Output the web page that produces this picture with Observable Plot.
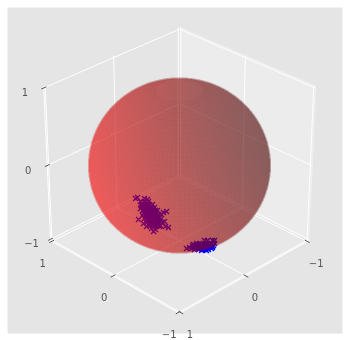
<!DOCTYPE html>
<html><head><meta charset="utf-8">
<style>html,body{margin:0;padding:0;background:#fff}svg{display:block;will-change:transform}svg text{filter:opacity(0.999)}</style>
<script src="https://cdn.jsdelivr.net/npm/d3@7"></script>
<script src="https://cdn.jsdelivr.net/npm/@observablehq/plot@0.6"></script>
</head><body><script>
const tickValues = [-1, 0, 1];
const tickLabels = ["\u22121", "0", "1"];
const limit = 1.02;
const sphereRadius = 0.993;

// Markers in view-plane units
const lowerLeftA = [-44,-42,-35,-32,-41,-36,-33,-16,-13,-18,-11,-14,-26,-24,-28,
  -39,-35,-31,-38,-34,-30,-27,-38,-35,-32,-28,-25,-37,-34,-31,-28,-24,-36,-33,-30,-27,-23,
  -34,-31,-28,-25,-22,-32,-29,-26,-23,-19,-30,-27,-24,-21,-17,-29,-25,-22,-19,
  -37,-33,-36,-32,-29,-35,-32,-29,-26,-34,-31,-28,-25,-33,-30,-27,-24,-32,-29,-26,-23,-30,-27,-24,-21,-28,-25,-22,-26,-23,-20,-38,-34,-30,-26,-33,-29,-25,-30,-26,-22,
  -39,-22,-21,-37,-20,-35,-33,-15];
const lowerLeftB = [-33,-32,-33,-34,-54,-58,-61,-47,-46,-49,-62,-61,-66,-64,-63,
  -36,-36,-36,-39,-39,-39,-39,-42,-42,-42,-42,-42,-45,-45,-45,-45,-45,-48,-48,-48,-48,-48,
  -51,-51,-51,-51,-51,-54,-54,-54,-54,-54,-57,-57,-57,-57,-57,-60,-60,-60,-60,
  -38,-38,-41,-41,-41,-44,-44,-44,-44,-46,-46,-46,-46,-50,-50,-50,-50,-52,-52,-52,-52,-55,-55,-55,-55,-58,-58,-58,-61,-61,-61,-40,-47,-49,-53,-43,-43,-47,-59,-56,-59,
  -43,-45,-49,-50,-52,-53,-57,-56];
const bottomA = [25,28,33,35,17,20,24,28,32,35,13,16,19,22,26,30,34,10,13,17,21,25,29,33,7,12,16,20,24,28,32,15,19,24,29,22,27,
  15,18,21,24,27,30,33,16,19,22,25,28,31,14,18,22,26,30,23,26];
const bottomB = [-75,-75,-75,-75,-78,-78,-78,-78,-78,-78,-80,-80,-80,-80,-80,-80,-80,-82,-82,-82,-82,-82,-82,-82,-83,-83,-83,-83,-83,-83,-83,-84,-84,-84,-84,-85,-85,
  -81,-81,-81,-81,-81,-81,-81,-82,-82,-82,-82,-82,-82,-79,-79,-79,-79,-79,-84,-84];

const rad = Math.PI / 180, elev = 31 * rad, dist = 10, sx = 187, sy = 180;
const n = [-Math.cos(elev) / Math.SQRT2, Math.cos(elev) / Math.SQRT2, Math.sin(elev)];
const r = [-Math.SQRT1_2, -Math.SQRT1_2, 0];
const up = [Math.sin(elev) / Math.SQRT2, -Math.sin(elev) / Math.SQRT2, Math.cos(elev)];
const dot3 = (a, b) => a[0] * b[0] + a[1] * b[1] + a[2] * b[2];
function project(u, v, z) {
  const p = [u, v, z].map((c) => c / (2 * limit));
  const f = dist / (dist - dot3(p, n));
  return {x: sx * dot3(p, r) * f, y: sy * dot3(p, up) * f};
}
const path3 = (pts) => pts.map((p) => project(...p));
const L = limit;

const grid = tickValues.flatMap((t) => [
  path3([[L, L, t], [L, -L, t], [-L, -L, t]]),
  path3([[t, L, -L], [t, -L, -L], [t, -L, L]]),
  path3([[-L, t, -L], [L, t, -L], [L, t, L]])
]);
const axisEdges = [
  path3([[L, L, -L], [-L, L, -L]]),
  path3([[-L, L, -L], [-L, -L, -L]]),
  path3([[L, L, -L], [L, L, L]])
];
const rightWall = path3([[L, -L, -L], [-L, -L, -L], [-L, -L, L], [L, -L, L], [L, -L, -L]]);
const leftWall = path3([[L, L, -L], [L, -L, -L], [L, -L, L], [L, L, L], [L, L, -L]]);
const floor = path3([[L, L, -L], [L, -L, -L], [-L, -L, -L], [-L, L, -L], [L, L, -L]]);

const tl = 0.03;
const ticks = tickValues.flatMap((t) => [
  [project(t, L - tl, -L), project(t, L + tl, -L)],
  [project(-L + tl, t, -L), project(-L - tl, t, -L)],
  [project(L, L - tl, t), project(L, L + tl, t)]
]);
const labelsU = tickValues.map((t, i) => ({...project(t, L, -L), text: tickLabels[i]}));
const labelsV = tickValues.map((t, i) => ({...project(-L, t, -L), text: tickLabels[i]}));
const labelsZ = tickValues.map((t, i) => ({...project(L, L, t), text: tickLabels[i]}));

const markers = [
  ...lowerLeftA.map((a, i) => ({x: a, y: lowerLeftB[i]})),
  ...bottomA.map((a, i) => ({x: a, y: bottomB[i]}))
];

// Shaded sphere: light comes from the lower left of the view
const rx = sx * sphereRadius / (2 * L), ry = sy * sphereRadius / (2 * L);
const light = [-0.943, -0.286, -0.172];
function shade(x, y) {
  const a = x / rx, b = y / ry, q = a * a + b * b;
  if (q > 1) return NaN;
  const s = light[0] * a + light[1] * b + light[2] * Math.sqrt(1 - q);
  return 0.3 + 0.7 * (s + 1) / 2;
}

// The facet seams of the surface, visible side only
const seams = [];
const front = (u, v, z) => dot3([u, v, z], n) > 0.08;
for (let i = 0; i < 120; ++i) {
  const lon = i * 3 * rad;
  for (let j = 5; j <= 55; ++j) {
    const lat = (j * 3 - 90) * rad;
    const u = Math.cos(lat) * Math.cos(lon), v = Math.cos(lat) * Math.sin(lon), z = Math.sin(lat);
    seams.push({...project(u, v, z), id: i, show: front(u, v, z)});
  }
}
for (let j = 5; j < 56; ++j) {
  const lat = (j * 3 - 90) * rad;
  for (let i = 0; i <= 120; ++i) {
    const lon = i * 3 * rad;
    const u = Math.cos(lat) * Math.cos(lon), v = Math.cos(lat) * Math.sin(lon), z = Math.sin(lat);
    seams.push({...project(u, v, z), id: 1000 + j, show: front(u, v, z)});
  }
}

const lineOf = (pts, o) => Plot.line(pts, {x: "x", y: "y", curve: "linear", ...o});
const plot = Plot.plot({
  width: 349, height: 340,
  marginLeft: 7, marginRight: 7, marginTop: 7, marginBottom: 7,
  x: {domain: [-172, 163], axis: null},
  y: {domain: [-168, 158], axis: null},
  color: {type: "linear", domain: [0, 1], range: ["#000000", "#ff0000"]},
  style: {fontFamily: "DejaVu Sans", fontSize: "10px", background: "transparent"},
  marks: [
    Plot.frame({fill: "#e5e5e5", stroke: null}),
    lineOf(rightWall, {fill: "#ececec", stroke: "#eeeeee", strokeWidth: 2}),
    lineOf(floor, {fill: "#e8e8e8", stroke: "#e9e9e9", strokeWidth: 1.5}),
    lineOf(leftWall, {fill: "#e5e5e5", stroke: "#e6e6e6", strokeWidth: 1}),
    ...grid.map((g) => lineOf(g, {stroke: "#fff", strokeWidth: 1})),
    ...axisEdges.map((g) => lineOf(g, {stroke: "#fff", strokeWidth: 1})),
    ...ticks.map((g) => lineOf(g, {stroke: "#555", strokeWidth: 1})),
    Plot.dot(markers, {x: "x", y: "y", symbol: "times", r: 2.4, stroke: "#0000ff", strokeWidth: 1.2}),
    Plot.raster({x1: -172, x2: 163, y1: -168, y2: 158, pixelSize: 0.5, fill: shade, opacity: 0.6}),
    Plot.line(seams, {x: (d) => (d.show ? d.x : NaN), y: "y", z: "id", curve: "linear", stroke: "#000", strokeOpacity: 0.03, strokeWidth: 0.5}),
    Plot.text(labelsU, {x: "x", y: "y", text: "text", dx: -9, dy: 22, fill: "#555"}),
    Plot.text(labelsV, {x: "x", y: "y", text: "text", dx: 9, dy: 22, fill: "#555"}),
    Plot.text(labelsZ, {x: "x", y: "y", text: "text", dx: -19, dy: 5, fill: "#555"})
  ]
});
document.body.appendChild(plot);
</script></body></html>
